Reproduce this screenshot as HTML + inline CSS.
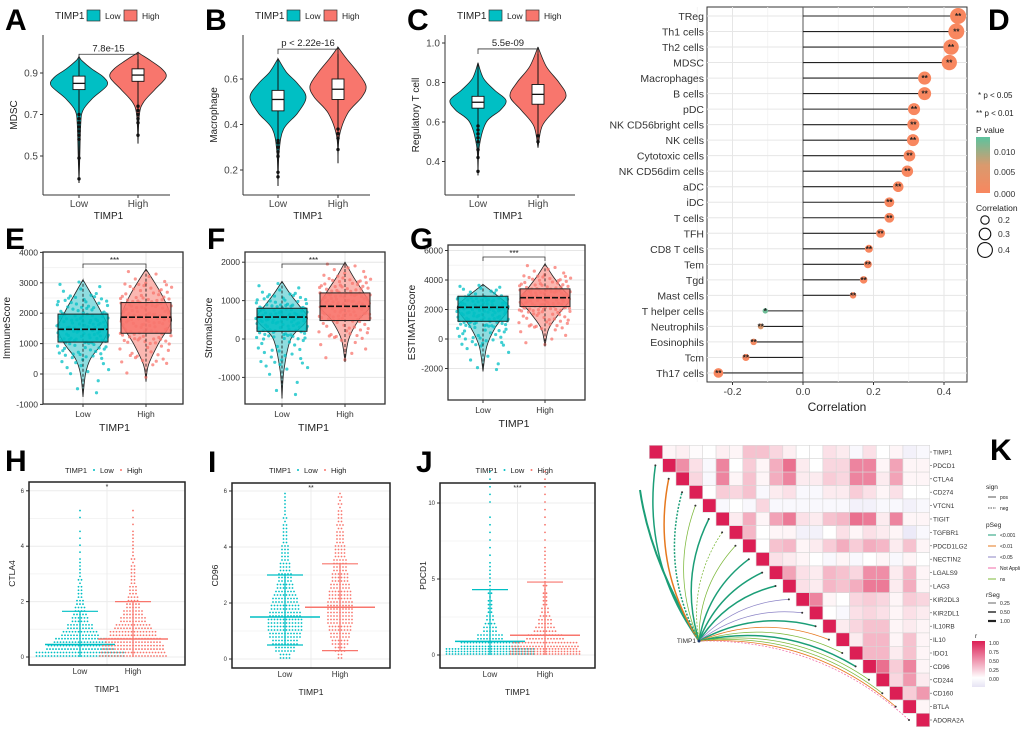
<!DOCTYPE html>
<html><head><meta charset="utf-8"><style>
html,body{margin:0;padding:0;background:#fff}
svg{display:block;font-family:"Liberation Sans",Arial,sans-serif}
</style></head><body>
<svg id="fig" width="1020" height="731" viewBox="0 0 1020 731" xmlns="http://www.w3.org/2000/svg">
<defs>
<linearGradient id="pgrad" x1="0" y1="1" x2="0" y2="0"><stop offset="0" stop-color="#f8875f"/><stop offset="0.5" stop-color="#d99a6e"/><stop offset="1" stop-color="#5cc39e"/></linearGradient>
<linearGradient id="rgrad" x1="0" y1="1" x2="0" y2="0"><stop offset="0" stop-color="#e6e3f4"/><stop offset="0.2" stop-color="#ffffff"/><stop offset="1" stop-color="#dc1f55"/></linearGradient>
</defs>
</svg>
<script>
const svg=document.getElementById('fig');
const NS='http://www.w3.org/2000/svg';
const TEAL='#00BFC4', RED='#F8766D';
function mk(tag,a,parent){const e=document.createElementNS(NS,tag);for(const k in a)e.setAttribute(k,a[k]);(parent||svg).appendChild(e);return e;}
function tx(x,y,s,a){const o=Object.assign({x:x,y:y,'font-size':10,fill:'#222'},a||{});const e=mk('text',o);e.textContent=s;return e;}
function smooth(p,closed){let d='M'+p[0][0]+','+p[0][1];const n=p.length;for(let i=0;i<n-1;i++){const p0=p[Math.max(0,i-1)],p1=p[i],p2=p[i+1],p3=p[Math.min(n-1,i+2)];const c1=[p1[0]+(p2[0]-p0[0])/6,p1[1]+(p2[1]-p0[1])/6],c2=[p2[0]-(p3[0]-p1[0])/6,p2[1]-(p3[1]-p1[1])/6];d+='C'+c1[0].toFixed(1)+','+c1[1].toFixed(1)+' '+c2[0].toFixed(1)+','+c2[1].toFixed(1)+' '+p2[0].toFixed(1)+','+p2[1].toFixed(1);}return d+(closed?'Z':'');}
function halton(i,b){let f=1,r=0;i=i+1;while(i>0){f/=b;r+=f*(i%b);i=Math.floor(i/b);}return r;}
function panelLabel(x,y,s){const t=tx(x,y,s,{'font-size':30,'font-weight':'bold',fill:'#000'});

}

/* ===================== TOP ROW VIOLINS (A,B,C) ===================== */
const violinPanels=['A','B','C'];
const violinYTitles=['MDSC','Macrophage','Regulatory T cell'];
const violinPText=['7.8e-15','p < 2.22e-16','5.5e-09'];
const violinTicks=[[0.5,0.7,0.9],[0.2,0.4,0.6],[0.4,0.6,0.8,1.0]];
const violinLowProfile=[
 [[0.37,0],[0.5,0.03],[0.65,0.06],[0.72,0.14],[0.78,0.5],[0.84,1],[0.88,0.88],[0.92,0.45],[0.96,0.1],[0.98,0]],
 [[0.13,0],[0.28,0.04],[0.38,0.2],[0.45,0.7],[0.52,1],[0.58,0.7],[0.63,0.3],[0.69,0]],
 [[0.33,0],[0.48,0.05],[0.6,0.3],[0.66,0.8],[0.71,1],[0.76,0.6],[0.82,0.2],[0.9,0]]];
const violinHighProfile=[
 [[0.56,0],[0.7,0.05],[0.76,0.2],[0.82,0.6],[0.88,1],[0.92,0.85],[0.96,0.45],[0.99,0.1],[1.0,0]],
 [[0.23,0],[0.35,0.05],[0.45,0.35],[0.52,0.85],[0.57,1],[0.63,0.7],[0.69,0.3],[0.74,0]],
 [[0.47,0],[0.58,0.15],[0.66,0.6],[0.73,1],[0.8,0.75],[0.88,0.3],[0.98,0]]];
const violinLowBox=[[0.82,0.85,0.885,0.77,0.96],[0.46,0.51,0.55,0.33,0.66],[0.67,0.70,0.73,0.59,0.83]];
const violinHighBox=[[0.86,0.89,0.92,0.76,0.99],[0.51,0.555,0.6,0.39,0.73],[0.69,0.74,0.79,0.56,0.95]];
const violinLowOut=[[0.39,0.49,0.58,0.6,0.62,0.64,0.66,0.68,0.7],[0.17,0.19,0.26,0.28,0.3,0.32,0.33],[0.35,0.42,0.46,0.5,0.52,0.54,0.56,0.58]];
const violinHighOut=[[0.6,0.66,0.68,0.7,0.72,0.74],[0.29,0.34,0.36,0.38],[0.5,0.53]];
const violinGeom=[{ax:43,right:170,t0:0.9,y0:73,k:207.5,lo:79,hi:138},{ax:243,right:370,t0:0.6,y0:79,k:227.5,lo:278,hi:338},{ax:445,right:575,t0:1.0,y0:43,k:197.5,lo:478,hi:538}];
violinPanels.forEach((P,pi)=>{
 const g=violinGeom[pi];const Y=v=>g.y0+(g.t0-v)*g.k;const W=28;
 panelLabel(g.ax-38,30,P);
 const lx=g.ax+12;
 tx(lx,19,'TIMP1',{'font-size':10});
 const b1=mk('rect',{x:lx+32,y:10,width:13,height:11,fill:TEAL,stroke:'#333','stroke-width':0.7});
 
 
 tx(lx+50,19,'Low',{'font-size':8.5});
 const b2=mk('rect',{x:lx+69,y:10,width:13,height:11,fill:RED,stroke:'#333','stroke-width':0.7});
 
 
 tx(lx+87,19,'High',{'font-size':8.5});
 mk('line',{x1:g.ax,y1:35,x2:g.ax,y2:195,stroke:'#333','stroke-width':1});
 mk('line',{x1:g.ax,y1:195,x2:g.right,y2:195,stroke:'#333','stroke-width':1});
 violinTicks[pi].forEach(t=>{const y=Y(t);mk('line',{x1:g.ax-3,y1:y,x2:g.ax,y2:y,stroke:'#333'});
  const tl=tx(g.ax-5,y+3.5,t.toFixed(1),{'text-anchor':'end','font-size':10,fill:'#444'});
  
  });
 [['Low',g.lo],['High',g.hi]].forEach(([s,x])=>{mk('line',{x1:x,y1:195,x2:x,y2:198,stroke:'#333'});tx(x,207,s,{'text-anchor':'middle','font-size':10,fill:'#444'});});
 const xt=tx((g.lo+g.hi)/2,219,'TIMP1',{'text-anchor':'middle','font-size':10});
 
 
 const yt=tx(0,0,violinYTitles[pi],{'text-anchor':'middle','font-size':10,transform:'translate('+(g.ax-26)+',115) rotate(-90)'});
 
 
 [[violinLowProfile,violinLowBox,violinLowOut,g.lo,TEAL,'low'],[violinHighProfile,violinHighBox,violinHighOut,g.hi,RED,'high']].forEach(([prof,box,out,cx,col,nmx])=>{
  const pr=prof[pi];const R=pr.map(p=>[cx+p[1]*W,Y(p[0])]);const L=pr.slice().reverse().map(p=>[cx-p[1]*W,Y(p[0])]);
  const vp=mk('path',{d:smooth(R,false)+' L'+smooth(L,false).slice(1)+'Z',fill:col,stroke:'#222','stroke-width':0.8});
  
  
  const bx=box[pi];const vmin=pr[0][0],vmax=pr[pr.length-1][0];
  mk('line',{x1:cx,y1:Y(vmin),x2:cx,y2:Y(vmax),stroke:'#111','stroke-width':1});
  const br=mk('rect',{x:cx-6,y:Y(bx[2]),width:12,height:Y(bx[0])-Y(bx[2]),fill:'#fff',stroke:'#111','stroke-width':0.9});
  
  
  mk('line',{x1:cx-6,y1:Y(bx[1]),x2:cx+6,y2:Y(bx[1]),stroke:'#111','stroke-width':1.3});
  out[pi].forEach(v=>{const c=mk('circle',{cx:cx,cy:Y(v),r:1.7,fill:'#111'});
   
   });
 });
 const by=Y(violinHighProfile[pi][violinHighProfile[pi].length-1][0])+2;
 mk('path',{d:'M'+g.lo+','+(by+5)+' V'+by+' H'+g.hi+' V'+(by+5),fill:'none',stroke:'#333','stroke-width':0.8});
 const pt=tx((g.lo+g.hi)/2,by-3,violinPText[pi],{'text-anchor':'middle','font-size':9.5});
 
 
});

/* ===================== PANEL D LOLLIPOP ===================== */
const cellTypes=['TReg','Th1 cells','Th2 cells','MDSC','Macrophages','B cells','pDC','NK CD56bright cells','NK cells','Cytotoxic cells','NK CD56dim cells','aDC','iDC','T cells','TFH','CD8 T cells','Tem','Tgd','Mast cells','T helper cells','Neutrophils','Eosinophils','Tcm','Th17 cells'];
const corrValues=[0.44,0.435,0.42,0.415,0.345,0.345,0.315,0.313,0.312,0.302,0.296,0.27,0.245,0.245,0.22,0.187,0.184,0.172,0.142,-0.107,-0.12,-0.14,-0.162,-0.24];
const pValues=[0,0,0,0,0,0,0,0,0,0,0,0,0,0,0,0,0,0,0,0.012,0.006,0.001,0,0];
const sigLabels=['**','**','**','**','**','**','**','**','**','**','**','**','**','**','**','**','**','**','**','*','**','**','**','**'];
const dTicks=[-0.2,0.0,0.2,0.4];
(function(){
 panelLabel(988,30,'D');
 const X=v=>803+v*352.5;const Y=i=>16+i*15.52;
 const fr=mk('rect',{x:707,y:7,width:260,height:375,fill:'#fff',stroke:'#333','stroke-width':1});
 
 
 [-0.3,-0.1,0.1,0.3].forEach(v=>mk('line',{x1:X(v),y1:7,x2:X(v),y2:382,stroke:'#f2f2f2','stroke-width':0.8}));
 dTicks.forEach(v=>mk('line',{x1:X(v),y1:7,x2:X(v),y2:382,stroke:'#e6e6e6','stroke-width':1}));
 cellTypes.forEach((c,i)=>mk('line',{x1:707,y1:Y(i),x2:967,y2:Y(i),stroke:'#e6e6e6','stroke-width':1}));
 mk('line',{x1:X(0),y1:7,x2:X(0),y2:382,stroke:'#555','stroke-width':1});
 function pcol(p){const t=Math.min(1,p/0.013);const a=[248,135,95],m=[217,154,110],b=[92,195,158];let c;if(t<0.5){const u=t*2;c=a.map((v,k)=>v+(m[k]-v)*u);}else{const u=(t-0.5)*2;c=m.map((v,k)=>v+(b[k]-v)*u);}return 'rgb('+c.map(Math.round).join(',')+')';}
 cellTypes.forEach((c,i)=>{
  const v=corrValues[i],y=Y(i);
  const sl=mk('line',{x1:X(0),y1:y,x2:X(v),y2:y,stroke:'#222','stroke-width':1.1});
  
  
  const r=1+Math.abs(v)*16;
  const dot=mk('circle',{cx:X(v),cy:y,r:r,fill:pcol(pValues[i])});
  
  
  tx(X(v),y+3,sigLabels[i],{'text-anchor':'middle','font-size':8,'font-weight':'bold',fill:'#222'});
  const lb=tx(704,y+4,c,{'text-anchor':'end','font-size':10.5,fill:'#333'});
  
  
 });
 dTicks.forEach(v=>{mk('line',{x1:X(v),y1:382,x2:X(v),y2:385,stroke:'#333'});tx(X(v),395,v.toFixed(1),{'text-anchor':'middle','font-size':10.5,fill:'#444'});});
 const xt=tx(837,411,'Correlation',{'text-anchor':'middle','font-size':12});
 
 
 tx(978,98,'* p < 0.05',{'font-size':8});
 tx(976,116,'** p < 0.01',{'font-size':8});
 tx(976,133,'P value',{'font-size':8.5});
 const gb=mk('rect',{x:976,y:137,width:14,height:56,fill:'url(#pgrad)'});
 
 
 [['0.010',152],['0.005',172],['0.000',194]].forEach(([s,y])=>tx(994,y+3,s,{'font-size':8.5,fill:'#333'}));
 tx(976,211,'Correlation',{'font-size':8.5});
 [[0.2,220],[0.3,234],[0.4,250]].forEach(([v,y])=>{const c=mk('circle',{cx:985,cy:y,r:1+v*16,fill:'none',stroke:'#111','stroke-width':1.1});
  
  
  tx(998,y+3,v.toFixed(1),{'font-size':8.5,fill:'#333'});});
})();

/* ===================== E,F,G BOX+VIOLIN+JITTER ===================== */
const scorePanels=['E','F','G'];
const scoreTitles=['ImmuneScore','StromalScore','ESTIMATEScore'];
const scoreTicks=[[-1000,0,1000,2000,3000,4000],[-1000,0,1000,2000],[-2000,0,2000,4000,6000]];
const scoreLowProfile=[[[-750,0],[0,0.1],[500,0.3],[1000,0.75],[1500,1],[2000,0.75],[2600,0.35],[3100,0]],
 [[-1550,0],[-800,0.08],[0,0.35],[400,0.9],[600,1],[900,0.65],[1200,0.3],[1500,0]],
 [[-2200,0],[-500,0.15],[800,0.5],[1800,0.95],[2300,1],[2900,0.6],[3700,0]]];
const scoreHighProfile=[[[-250,0],[300,0.1],[1000,0.5],[1600,0.95],[1900,1],[2500,0.7],[3000,0.35],[3450,0]],
 [[-600,0],[0,0.15],[500,0.55],[850,1],[1200,0.75],[1600,0.35],[2000,0]],
 [[-500,0],[700,0.15],[1800,0.6],[2700,1],[3400,0.7],[4300,0.3],[5100,0]]];
const scoreLowBox=[[1050,1470,1970],[200,570,800],[1200,2150,2900]];
const scoreHighBox=[[1340,1870,2350],[480,850,1200],[2200,2800,3400]];
const scoreCounts=[140,140,140];
const scoreGeom=[{l:43,r:183,t:252,b:404,z:374,k:0.0304,lo:83,hi:146},{l:245,r:385,t:252,b:404,z:339,k:0.0384,lo:282,hi:345},{l:448,r:585,t:245,b:400,z:339,k:0.01475,lo:483,hi:545}];
scorePanels.forEach((P,pi)=>{
 const g=scoreGeom[pi];const Y=v=>g.z-v*g.k;
 panelLabel(g.l-38,249,P);
 mk('rect',{x:g.l,y:g.t,width:g.r-g.l,height:g.b-g.t,fill:'#fff'});
 scoreTicks[pi].forEach(t=>{const y=Y(t);mk('line',{x1:g.l,y1:y,x2:g.r,y2:y,stroke:'#e6e6e6'});
  const yh=Y(t+ (scoreTicks[pi][1]-scoreTicks[pi][0])/2);if(yh>g.t)mk('line',{x1:g.l,y1:yh,x2:g.r,y2:yh,stroke:'#f3f3f3'});
  mk('line',{x1:g.l-3,y1:y,x2:g.l,y2:y,stroke:'#333'});
  const tl=tx(g.l-5,y+3,String(t),{'text-anchor':'end','font-size':8.5,fill:'#333'});
  
  });
 [g.lo,g.hi].forEach(x=>mk('line',{x1:x,y1:g.t,x2:x,y2:g.b,stroke:'#e6e6e6'}));
 [[scoreLowProfile,scoreLowBox,g.lo,TEAL,'#8fdde0','low',0],[scoreHighProfile,scoreHighBox,g.hi,RED,'#fbb7b1','high',1]].forEach(([prof,box,cx,col,lc,nmx,s])=>{
  const pr=prof[pi];const W=25;
  const R=pr.map(p=>[cx+p[1]*W,Y(p[0])]);const L=pr.slice().reverse().map(p=>[cx-p[1]*W,Y(p[0])]);
  const vp=mk('path',{d:smooth(R,false)+' L'+smooth(L,false).slice(1)+'Z',fill:lc,stroke:'#222','stroke-width':0.8});
  
  
  const cum=[0];for(let i=1;i<pr.length;i++)cum.push(cum[i-1]+(pr[i][1]+pr[i-1][1])/2*(pr[i][0]-pr[i-1][0]));
  const tot=cum[cum.length-1];
  for(let k=0;k<scoreCounts[pi];k++){const u=halton(k+s*7,2)*tot;let j=1;while(j<cum.length-1&&cum[j]<u)j++;
   const f=(u-cum[j-1])/Math.max(1e-9,cum[j]-cum[j-1]);const v=pr[j-1][0]+f*(pr[j][0]-pr[j-1][0]);
   const dx=(halton(k,3)*2-1)*W*1.05;
   const c=mk('circle',{cx:cx+dx,cy:Y(v),r:1.6,fill:col,opacity:0.75});
   
   }
  const bx=box[pi];
  mk('line',{x1:cx,y1:Y(pr[0][0]),x2:cx,y2:Y(pr[pr.length-1][0]),stroke:'#222','stroke-width':0.9,'stroke-dasharray':'3,2'});
  const br=mk('rect',{x:cx-25,y:Y(bx[2]),width:50,height:Y(bx[0])-Y(bx[2]),fill:col,'fill-opacity':0.85,stroke:'#222','stroke-width':1});
  
  
  mk('line',{x1:cx-25,y1:Y(bx[1]),x2:cx+25,y2:Y(bx[1]),stroke:'#111','stroke-width':1.6,'stroke-dasharray':'6,2'});
 });
 const fr=mk('rect',{x:g.l,y:g.t,width:g.r-g.l,height:g.b-g.t,fill:'none',stroke:'#333','stroke-width':1.3});
 
 
 const by=g.t+12;
 mk('path',{d:'M'+g.lo+','+(by+4)+' V'+by+' H'+g.hi+' V'+(by+4),fill:'none',stroke:'#333','stroke-width':0.8});
 tx((g.lo+g.hi)/2,by-1,'***',{'text-anchor':'middle','font-size':8});
 [['Low',g.lo],['High',g.hi]].forEach(([s,x])=>{mk('line',{x1:x,y1:g.b,x2:x,y2:g.b+3,stroke:'#333'});tx(x,g.b+13,s,{'text-anchor':'middle','font-size':8.5,fill:'#333'});});
 const xt=tx((g.lo+g.hi)/2,g.b+27,'TIMP1',{'text-anchor':'middle','font-size':10.5});
 
 
 const yt=tx(0,0,scoreTitles[pi],{'text-anchor':'middle','font-size':10,transform:'translate('+(g.l-33)+','+((g.t+g.b)/2)+') rotate(-90)'});
 
 
});

/* ===================== H,I,J BEESWARM ===================== */
const swarmPanels=['H','I','J'];
const swarmTitles=['CTLA4','CD96','PDCD1'];
const swarmSig=['*','**','***'];
const swarmBin=[0.25,0.25,0.5];
const swarmTicks=[[0,2,4,6],[0,2,4,6],[0,5,10]];
const swarmLowCounts=[[60,45,35,25,18,12,9,7,5,4,3,3,2,2,1,1,1,1,1,0,1,1],
 [8,14,18,22,24,24,22,20,18,15,12,10,9,8,6,6,5,4,4,3,3,2,2,2],
 [90,40,18,10,7,5,4,3,3,2,2,2,1,1,1,1,1,1,1,0,1,1,1,1,1]];
const swarmHighCounts=[[45,42,38,32,25,18,14,10,8,6,5,4,4,3,3,2,2,2,1,1,1,1],
 [4,8,12,14,16,18,18,18,17,16,14,12,11,10,9,8,7,6,5,5,4,3,3,3],
 [70,45,25,15,10,7,5,4,3,3,2,2,2,2,1,1,1,1,1,1,1,1,1,1,1]];
const swarmLowStats=[[0.45,0,1.65],[1.5,0.5,3.0],[0.9,0,4.3]];
const swarmHighStats=[[0.65,0,2.0],[1.85,0.3,3.4],[1.3,0,4.8]];
const swarmGeom=[{l:29,r:185,t:482,b:665,z:657,k:27.7,lo:80,hi:133},{l:232,r:390,t:483,b:668,z:659,k:28,lo:285,hi:340},{l:440,r:595,t:483,b:668,z:655,k:15.2,lo:490,hi:545}];
swarmPanels.forEach((P,pi)=>{
 const g=swarmGeom[pi];const Y=v=>g.z-v*g.k;
 panelLabel(g.l-24,g.t-11,P);
 const lx=(g.l+g.r)/2-42;
 tx(lx,473,'TIMP1',{'font-size':7.5});
 mk('circle',{cx:lx+29,cy:470,r:1,fill:TEAL});tx(lx+35,473,'Low',{'font-size':7.5});
 mk('circle',{cx:lx+56,cy:470,r:1,fill:RED});tx(lx+62,473,'High',{'font-size':7.5});
 swarmTicks[pi].forEach(t=>{const y=Y(t);mk('line',{x1:g.l,y1:y,x2:g.r,y2:y,stroke:'#ececec'});
  const yh=Y(t+(swarmTicks[pi][1]-swarmTicks[pi][0])/2);if(yh>g.t)mk('line',{x1:g.l,y1:yh,x2:g.r,y2:yh,stroke:'#f4f4f4'});
  mk('line',{x1:g.l-3,y1:y,x2:g.l,y2:y,stroke:'#333'});
  const tl=tx(g.l-5,y+2,String(t),{'text-anchor':'end','font-size':6,fill:'#333'});
  
  });
 mk('line',{x1:(g.l+g.r)/2,y1:g.t,x2:(g.l+g.r)/2,y2:g.b,stroke:'#ececec'});
 [[swarmLowCounts,swarmLowStats,g.lo,TEAL,'low'],[swarmHighCounts,swarmHighStats,g.hi,RED,'high']].forEach(([cnt,st,cx,col,nmx])=>{
  const bin=swarmBin[pi];const hpx=bin*g.k;
  cnt[pi].forEach((n,bi)=>{if(!n)return;const rows=Math.max(1,Math.floor(hpx/2.6),Math.ceil(n/30));const per=Math.ceil(n/rows);let placed=0;
   for(let r=0;r<rows&&placed<n;r++){const m=Math.min(per,n-placed);const y=Y(bi*bin)-r*(hpx/rows)-1;
    for(let q=0;q<m;q++){const x=cx+(q-(m-1)/2)*3;
     const c=mk('circle',{cx:x,cy:y,r:0.9,fill:col});
     
     }
    placed+=m;}});
  const s=st[pi];
  const ml=mk('line',{x1:cx-35,y1:Y(s[0]),x2:cx+35,y2:Y(s[0]),stroke:col,'stroke-width':1.5});
  
  
  mk('line',{x1:cx,y1:Y(s[1]),x2:cx,y2:Y(s[2]),stroke:col,'stroke-width':1.2});
  mk('line',{x1:cx-18,y1:Y(s[2]),x2:cx+18,y2:Y(s[2]),stroke:col,'stroke-width':1.2});
  if(s[1]>0)mk('line',{x1:cx-18,y1:Y(s[1]),x2:cx+18,y2:Y(s[1]),stroke:col,'stroke-width':1.2});
 });
 const fr=mk('rect',{x:g.l,y:g.t,width:g.r-g.l,height:g.b-g.t,fill:'none',stroke:'#222','stroke-width':1.5});
 
 
 tx((g.l+g.r)/2,g.t+7,swarmSig[pi],{'text-anchor':'middle','font-size':7});
 [['Low',g.lo],['High',g.hi]].forEach(([s,x])=>tx(x,g.b+9,s,{'text-anchor':'middle','font-size':8,fill:'#333'}));
 const xt=tx((g.l+g.r)/2,g.b+27,'TIMP1',{'text-anchor':'middle','font-size':8.5});
 
 
 const yt=tx(0,0,swarmTitles[pi],{'text-anchor':'middle','font-size':8.5,transform:'translate('+(g.l-14)+','+((g.t+g.b)/2)+') rotate(-90)'});
 
 
});

/* ===================== PANEL K HEATMAP ===================== */
const genes=['TIMP1','PDCD1','CTLA4','CD274','VTCN1','TIGIT','TGFBR1','PDCD1LG2','NECTIN2','LGALS9','LAG3','KIR2DL3','KIR2DL1','IL10RB','IL10','IDO1','CD96','CD244','CD160','BTLA','ADORA2A'];
const corrRows=[
 [.05,.08,.02,0,.08,.05,.3,.3,.2,.08,0,0,.15,.1,-.05,.15,0,.05,-.1,-.05],
 [.55,.15,-.05,.6,0,.25,.05,.4,.7,.1,0,.2,.2,.6,.6,.05,.45,.05,.05],
 [.2,-.05,.6,.05,.3,.05,.4,.6,.1,.1,.25,.2,.6,.6,.1,.45,.05,.05],
 [0,.25,.2,.3,-.05,.1,.15,-.05,-.05,.1,.1,.25,.15,.05,.15,0,0],
 [-.05,0,-.05,.2,-.05,-.05,-.05,-.05,-.05,-.05,-.1,-.1,-.05,-.05,-.1,-.05],
 [.1,.4,.05,.45,.65,.15,.1,.3,.35,.7,.65,.1,.6,.05,.05],
 [.35,0,.05,.05,-.1,-.1,0,.15,.05,.15,.1,.05,-.15,-.05],
 [0,.3,.35,.05,.1,.25,.4,.25,.4,.35,.1,.3,.05],
 [.15,.1,.05,0,-.05,.05,-.05,0,.05,-.05,.05,0],
 [.45,.15,.1,.35,.3,.2,.55,.55,.1,.35,.05],
 [.15,.1,.35,.3,.4,.65,.65,.1,.4,.05],
 [.6,.05,0,.2,.25,.2,.05,.25,.2],
 [0,-.05,.15,.2,.15,.05,.15,.1],
 [.1,.2,.3,.3,.05,.1,.05],
 [.1,.35,.35,.05,.3,.05],
 [.35,.35,.1,.3,.05],
 [.7,.25,.6,.05],
 [.2,.5,.1],
 [.25,.5],
 [.05],
 []];
const linkP=['<0.001','<0.01','<0.001','ns','<0.001','ns','ns','<0.001','<0.001','<0.001','<0.05','<0.05','<0.001','<0.01','ns','<0.001','ns','ns','<0.01','NA'];
const linkSign=['pos','pos','neg','pos','pos','neg','pos','pos','pos','pos','pos','pos','pos','pos','pos','pos','pos','pos','pos','neg'];
const linkR=[0.5,0.5,0.5,0.25,0.5,0.25,0.25,0.5,0.5,0.5,0.25,0.25,0.5,0.25,0.25,0.5,0.25,0.25,0.25,0.25];
(function(){
 const NG=genes.length;
 panelLabel(990,460,'K');
 const CX=j=>656+j*13.35, CY=i=>452+i*13.4, S=13.4;
 function rc(r){if(r>=0.999)return '#dc1f55';if(r<0){const t=Math.min(1,-r/0.2);return 'rgb('+Math.round(255-t*25)+','+Math.round(255-t*28)+','+Math.round(255-t*10)+')';}
  const t=r;return 'rgb('+Math.round(255-t*(255-225))+','+Math.round(255-t*(255-50))+','+Math.round(255-t*(255-95))+')';}
 genes.forEach((gname,i)=>{
  for(let j=i;j<NG;j++){const r=j===i?1:corrRows[i][j-i-1];
   const c=mk('rect',{x:CX(j)-S/2,y:CY(i)-S/2,width:S,height:S,fill:rc(r),stroke:'#d8d8d8','stroke-width':0.6});
   
   }
  const lb=tx(933,CY(i)+2.5,gname,{'font-size':6.5,fill:'#333'});
  
  
  mk('line',{x1:930,y1:CY(i),x2:932,y2:CY(i),stroke:'#555','stroke-width':0.6});
 });
 const pcolK={'<0.001':'#1b9e77','<0.01':'#e6791f','<0.05':'#8c84c6','NA':'#f06ba8','ns':'#7cb83a'};
 const nx=699,ny=641;
 mk('path',{d:'M'+nx+','+ny+' Q650,560 640,490',fill:'none',stroke:'#1b9e77','stroke-width':2});
 for(let i=1;i<NG;i++){
  const tx_=CX(i)-14,ty=CY(i);const dx=tx_-nx,dy=ty-ny;
  const mx=(nx+tx_)/2+0.2*dy,my=(ny+ty)/2-0.2*dx;
  const col=pcolK[linkP[i-1]];
  const pth=mk('path',{d:'M'+nx+','+ny+' Q'+mx.toFixed(1)+','+my.toFixed(1)+' '+tx_.toFixed(1)+','+ty,fill:'none',stroke:col,'stroke-width':linkR[i-1]*3,'stroke-dasharray':linkSign[i-1]==='neg'?'2,1.5':'none'});
  
  
  mk('circle',{cx:tx_,cy:ty,r:1,fill:'#333'});
 }
 mk('circle',{cx:nx,cy:ny,r:1.5,fill:'#1b3a6b'});
 tx(nx-3,ny+2,'TIMP1',{'text-anchor':'end','font-size':6.5,fill:'#333'});
 tx(986,489,'sign',{'font-size':6.5});
 mk('line',{x1:988,y1:497,x2:996,y2:497,stroke:'#555','stroke-width':1});tx(1000,499,'pos',{'font-size':5});
 mk('line',{x1:988,y1:508,x2:996,y2:508,stroke:'#555','stroke-width':1,'stroke-dasharray':'1.5,1'});tx(1000,510,'neg',{'font-size':5});
 tx(986,527,'pSeg',{'font-size':6.5});
 [['<0.001','#1b9e77'],['<0.01','#e6791f'],['<0.05','#8c84c6'],['Not Applicable','#f06ba8'],['ns','#7cb83a']].forEach(([s,c],k)=>{const y=535+k*11;
  const ll=mk('line',{x1:988,y1:y,x2:996,y2:y,stroke:c,'stroke-width':1});
  
  
  tx(1000,y+2,s,{'font-size':5});});
 tx(986,597,'rSeg',{'font-size':6.5});
 [['0.25',0.7],['0.50',1.4],['1.00',2.2]].forEach(([s,w],k)=>{const y=603+k*9;mk('line',{x1:988,y1:y,x2:996,y2:y,stroke:'#222','stroke-width':w});tx(1000,y+2,s,{'font-size':5});});
 tx(975,638,'r',{'font-size':6.5});
 const cb=mk('rect',{x:972,y:641,width:13,height:46,fill:'url(#rgrad)'});
 
 
 [['1.00',643],['0.75',652],['0.50',661],['0.25',670],['0.00',679]].forEach(([s,y])=>tx(989,y+2,s,{'font-size':5}));
})();
</script>
</body></html>
